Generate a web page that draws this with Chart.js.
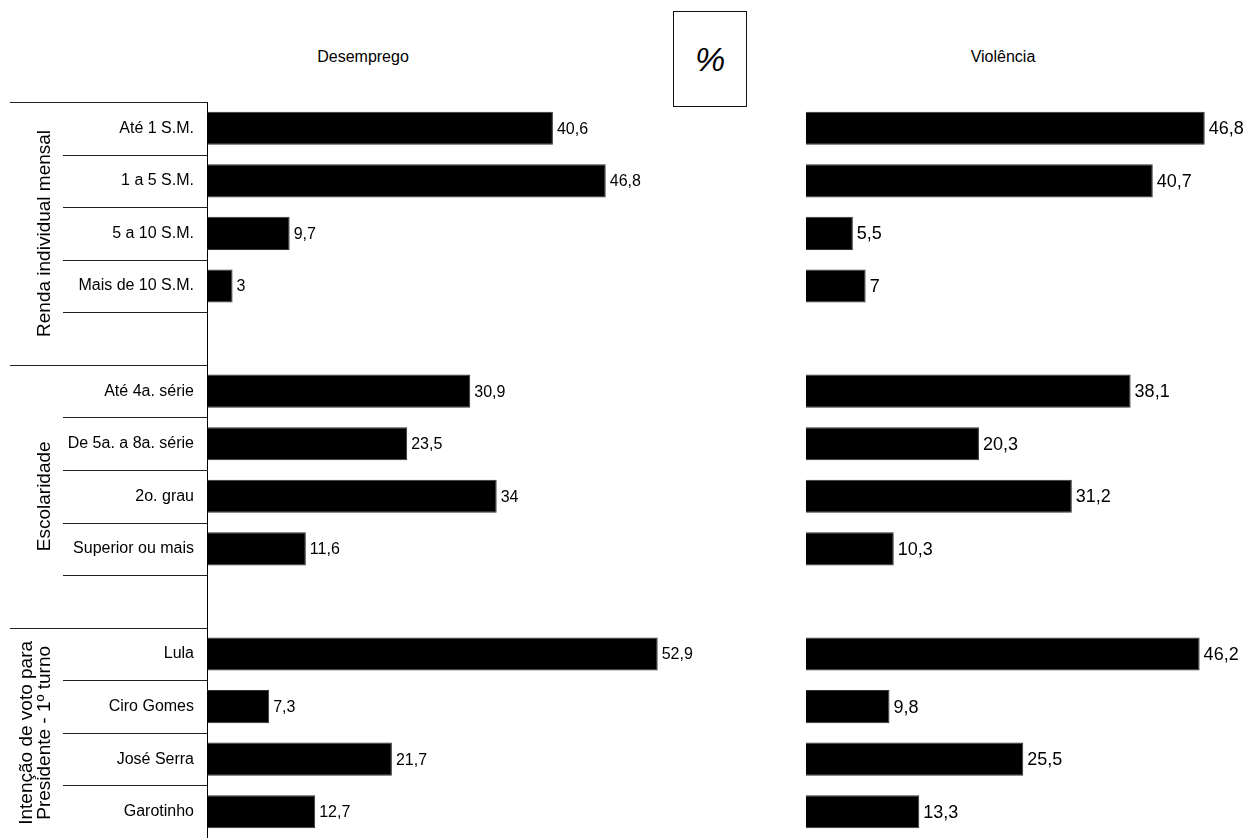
<!DOCTYPE html>
<html>
<head>
<meta charset="utf-8">
<script src="https://cdn.jsdelivr.net/npm/chart.js@4.4.1/dist/chart.umd.min.js"></script>
<style>
  body { margin: 0; background: #fff; width: 1248px; height: 838px; position: relative; overflow: hidden; font-family: "Liberation Sans", Arial, sans-serif; }
  canvas { position: absolute; top: 0; }
  #left { left: 0; }
  #right { left: 760px; }
  .title { position: absolute; top: 48px; font-size: 16px; color: #000; transform: translateX(-50%); white-space: nowrap; }
  #pct { position: absolute; left: 673px; top: 11px; width: 72px; height: 94px; border: 1.5px solid #111; font-size: 34px; font-style: italic; line-height: 94px; text-align: center; }
</style>
</head>
<body>
<div class="title" style="left:363px">Desemprego</div>
<div class="title" style="left:1003px">Violência</div>
<div id="pct">%</div>
<canvas id="left" width="700" height="900"></canvas>
<canvas id="right" width="488" height="900"></canvas>
<script>
// categories (empty slots keep the gap between groups)
const categories = [
  "Até 1 S.M.", "1 a 5 S.M.", "5 a 10 S.M.", "Mais de 10 S.M.", "",
  "Até 4a. série", "De 5a. a 8a. série", "2o. grau", "Superior ou mais", "",
  "Lula", "Ciro Gomes", "José Serra", "Garotinho"
];
const desemprego = [40.6, 46.8, 9.7, 3, null, 30.9, 23.5, 34, 11.6, null, 52.9, 7.3, 21.7, 12.7];
const violencia = [46.8, 40.7, 5.5, 7, null, 38.1, 20.3, 31.2, 10.3, null, 46.2, 9.8, 25.5, 13.3];
const groupNames = [["Renda individual mensal"], ["Escolaridade"], ["Intenção de voto para", "Presidente - 1º turno"]];
const groupFirst = [0, 5, 10];
const groupLast = [4, 9, 13];

const FONT = '"Liberation Sans", Arial, sans-serif';
const PX_PER_UNIT = 8.52;
const CANVAS_H = 900;
const AREA_BOTTOM = 838;

// value labels at the end of each bar
const valueLabels = {
  id: "valueLabels",
  afterDatasetsDraw(chart, args, opts) {
    const ctx = chart.ctx;
    const meta = chart.getDatasetMeta(0);
    ctx.save();
    ctx.font = opts.size + "px " + FONT;
    ctx.fillStyle = "#000";
    ctx.textBaseline = "middle";
    ctx.textAlign = "left";
    meta.data.forEach((bar, i) => {
      const v = chart.data.datasets[0].data[i];
      if (v == null) return;
      ctx.fillText(String(v).replace(".", ","), bar.x + opts.gap, bar.y + 1);
    });
    ctx.restore();
  }
};

// group labels and separator lines on the left
const groupLines = {
  id: "groupLines",
  afterDraw(chart) {
    const ctx = chart.ctx;
    const y = chart.scales.y;
    const step = y.getPixelForValue(1) - y.getPixelForValue(0);
    const axisX = chart.chartArea.left;
    ctx.save();
    ctx.strokeStyle = "#222";
    ctx.lineWidth = 1;
    categories.forEach((c, i) => {
      const top = Math.round(y.getPixelForValue(i) - step / 2) + 0.5;
      if (groupFirst.includes(i)) {
        ctx.beginPath(); ctx.moveTo(10, top); ctx.lineTo(axisX, top); ctx.stroke();
      } else if (i > 0) {
        ctx.beginPath(); ctx.moveTo(63, top); ctx.lineTo(axisX, top); ctx.stroke();
      }
    });
    ctx.fillStyle = "#000";
    ctx.font = "19px " + FONT;
    ctx.textAlign = "center";
    ctx.textBaseline = "middle";
    groupNames.forEach((lines, g) => {
      const cy = (y.getPixelForValue(groupFirst[g]) + y.getPixelForValue(groupLast[g])) / 2;
      const cx = lines.length > 1 ? 36 : 45;
      ctx.save();
      ctx.translate(cx, cy);
      ctx.rotate(-Math.PI / 2);
      lines.forEach((t, k) => {
        ctx.fillText(t, 0, (k - (lines.length - 1) / 2) * 18);
      });
      ctx.restore();
    });
    ctx.restore();
  }
};

function barOptions(xMax, padding, yAxis, labelSize) {
  return {
    responsive: false,
    animation: false,
    indexAxis: "y",
    layout: { padding: padding },
    plugins: {
      legend: { display: false },
      tooltip: { enabled: false },
      valueLabels: { size: labelSize, gap: 4 }
    },
    scales: {
      x: { display: false, min: 0, max: xMax },
      y: yAxis
    }
  };
}

const leftMax = 55;
new Chart(document.getElementById("left"), {
  type: "bar",
  data: {
    labels: categories,
    datasets: [{ data: desemprego, backgroundColor: "#000", borderColor: "#333", borderWidth: 1, barPercentage: 0.63, categoryPercentage: 1 }]
  },
  options: barOptions(leftMax,
    { top: 102, bottom: CANVAS_H - AREA_BOTTOM, left: 0, right: 700 - 207 - leftMax * PX_PER_UNIT },
    {
      grid: { display: false, drawTicks: false },
      border: { display: true, color: "#000", width: 1 },
      ticks: { autoSkip: false, color: "#000", padding: 13, font: { size: 16, family: FONT } },
      afterFit: (s) => { s.width = 207; }
    }, 16),
  plugins: [valueLabels, groupLines]
});

const rightMax = 50;
new Chart(document.getElementById("right"), {
  type: "bar",
  data: {
    labels: categories,
    datasets: [{ data: violencia, backgroundColor: "#000", borderColor: "#333", borderWidth: 1, barPercentage: 0.63, categoryPercentage: 1 }]
  },
  options: barOptions(rightMax,
    { top: 102, bottom: CANVAS_H - AREA_BOTTOM, left: 46, right: 488 - 46 - rightMax * PX_PER_UNIT },
    { display: false }, 18),
  plugins: [valueLabels]
});
</script>
</body>
</html>
